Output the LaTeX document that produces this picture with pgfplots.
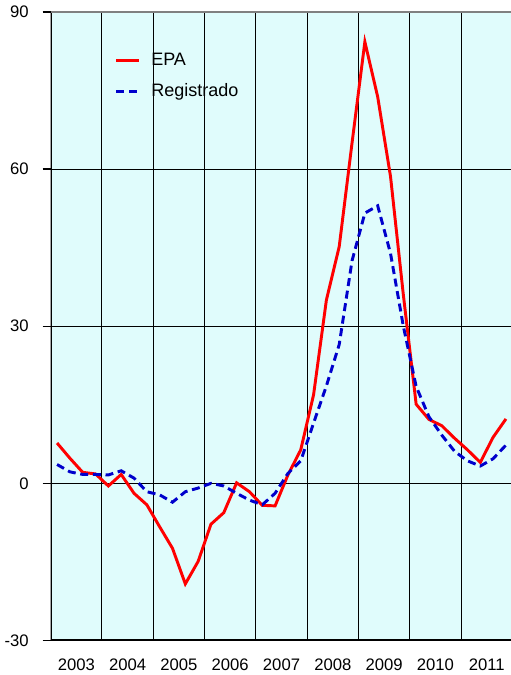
\documentclass[border=0pt]{standalone}
\usepackage{fontspec}
\setmainfont{Liberation Sans}
\usepackage{pgfplots}
\pgfplotsset{compat=1.18}
\definecolor{bgc}{RGB}{224,252,252}
\definecolor{epa}{RGB}{255,0,0}
\definecolor{reg}{RGB}{0,0,204}
\begin{document}
\begin{tikzpicture}
\begin{axis}[
  scale only axis,
  width=346.3pt, height=471.4pt,
  xmin=0, xmax=36, ymin=-30, ymax=90,
  axis background/.style={fill=bgc},
  axis line style={draw=none},
  xtick={2,6,...,34},
  xticklabels={2003,2004,2005,2006,2007,2008,2009,2010,2011},
  minor xtick={4,8,...,32},
  xminorgrids=true,
  ytick={-30,0,30,60,90},
  ymajorgrids=true,
  minor grid style={black, line width=0.7pt},
  major grid style={black, line width=0.7pt},
  xtick style={draw=none},
  ytick pos=left,
  tick align=outside,
  major tick length=6pt,
  ytick style={black, line width=1pt},
  /pgf/number format/assume math mode=true,
  ticklabel style={font=\fontsize{12.5}{14}\selectfont},
  xticklabel style={yshift=-4pt},
  yticklabel style={xshift=-7pt},
  legend style={draw=none, fill=none, at={(0.13,0.943)}, anchor=north west,
    font=\fontsize{13.5}{15}\selectfont, row sep=8pt,
    nodes={inner xsep=8pt}},
  legend cell align=left,
  legend image code/.code={\draw[#1] (0cm,0cm) -- (0.6cm,0cm);},
]
\addplot[epa, line width=2.2pt, no marks] coordinates {
(0.5,7.7) (1.5,4.8) (2.5,2.1) (3.5,1.8) (4.5,-0.5) (5.5,1.7) (6.5,-1.9) (7.5,-4.1)
(8.5,-8.3) (9.5,-12.4) (10.5,-19.2) (11.5,-14.9) (12.5,-7.8) (13.5,-5.6) (14.5,0.1) (15.5,-1.6)
(16.5,-4.2) (17.5,-4.3) (18.5,1.6) (19.5,6.4) (20.5,16.9) (21.5,35.0) (22.5,45.2) (23.5,65.0)
(24.5,84.3) (25.5,73.8) (26.5,58.6) (27.5,36.0) (28.5,15.1) (29.5,12.2) (30.5,11.0) (31.5,8.6)
(32.5,6.4) (33.5,4.0) (34.5,8.8) (35.5,12.3)
};
\addlegendentry{EPA}
\addplot[reg, line width=2.2pt, no marks, dash pattern=on 6pt off 3.5pt] coordinates {
(0.5,3.6) (1.5,2.2) (2.5,1.7) (3.5,1.7) (4.5,1.6) (5.5,2.4) (6.5,1.0) (7.5,-1.6)
(8.5,-2.2) (9.5,-3.6) (10.5,-1.6) (11.5,-0.9) (12.5,0.0) (13.5,-0.5) (14.5,-1.9) (15.5,-3.2)
(16.5,-4.1) (17.5,-1.9) (18.5,1.9) (19.5,4.3) (20.5,11.5) (21.5,18.6) (22.5,26.5) (23.5,42.5)
(24.5,51.6) (25.5,53.0) (26.5,43.9) (27.5,30.0) (28.5,18.5) (29.5,12.7) (30.5,9.2) (31.5,6.1)
(32.5,4.3) (33.5,3.3) (34.5,4.7) (35.5,7.3)
};
\addlegendentry{Registrado}
\draw[black, line width=1.5pt] (rel axis cs:0,0) -- (rel axis cs:0,1);
\draw[black, line width=1.6pt] (rel axis cs:0,0) -- (rel axis cs:1,0);
\draw[gray, line width=0.8pt] (rel axis cs:0,1) -- (rel axis cs:1,1);
\end{axis}
\pgfresetboundingbox
\path (-38.0pt,-25.9pt) rectangle (345.2pt,480.4pt);
\end{tikzpicture}
\end{document}
